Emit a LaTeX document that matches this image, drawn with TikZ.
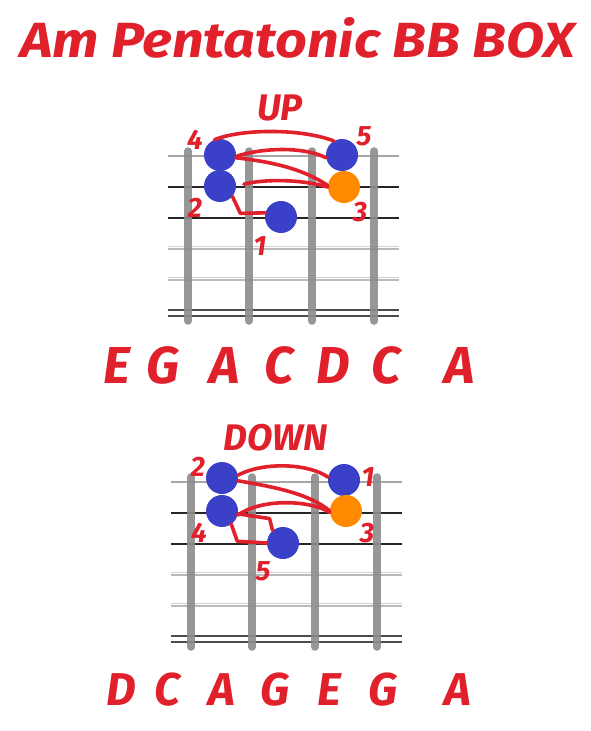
\documentclass[tikz,border=0pt]{standalone}
\usepackage{fontspec}
\newfontfamily\hand{Fira Sans}
\definecolor{penred}{HTML}{E0202A}
\definecolor{dotblue}{HTML}{3A40C8}
\definecolor{dotorange}{HTML}{FF8A00}
\definecolor{fretgray}{HTML}{8C8C8C}
\tikzset{
  dotb/.style={circle,fill=dotblue,minimum size=32pt,inner sep=0pt},
  doto/.style={circle,fill=dotorange,minimum size=32pt,inner sep=0pt},
  num/.style={text=penred,font=\hand\bfseries\itshape\fontsize{28}{28}\selectfont,inner sep=0pt},
  head/.style={text=penred,font=\hand\bfseries\itshape\fontsize{37}{37}\selectfont,inner sep=0pt},
  noteA/.style={text=penred,font=\hand\bfseries\itshape\fontsize{52}{52}\selectfont,inner sep=0pt,anchor=base},
  noteB/.style={text=penred,font=\hand\bfseries\itshape\fontsize{46}{46}\selectfont,inner sep=0pt,anchor=base},
  pen/.style={draw=penred,line width=3.6pt,line cap=round,line join=round},
  fretbar/.style={draw=fretgray,line width=7.5pt,line cap=round,opacity=0.9},
  strA/.style={draw=gray!70,line width=1.5pt},
  strB/.style={draw=black!85,line width=1.2pt},
  strC/.style={draw=gray!55,line width=1.3pt},
  strD/.style={draw=gray!35,line width=1pt},
}
\newcommand{\fretboard}{%
  \draw[strA] (168,156) -- (399,156);
  \draw[strB] (168,187) -- (399,187);
  \draw[strB] (168,218) -- (399,218);
  \draw[strC] (168,249) -- (399,249);
  \draw[strD] (168,246) -- (399,246);
  \draw[strC] (168,280) -- (399,280);
  \draw[strD] (168,277) -- (399,277);
  \draw[strB,draw=black!70] (168,310) -- (399,310);
  \draw[strB,draw=black!70] (168,316) -- (399,316);
  \foreach \fx in {188,249,312,374} {\draw[fretbar] (\fx,151) -- (\fx,321);}
}
\begin{document}
\begin{tikzpicture}[x=1pt,y=-1pt]
\useasboundingbox (0,0) rectangle (591,731);
\fill[white] (0,0) rectangle (591,731);
% title
\node[anchor=base west,inner sep=0pt,text=penred] (title) at (20,57)
  {\resizebox{555pt}{40pt}{\hand\bfseries\itshape Am Pentatonic BB BOX}};
% ---------- UP board ----------
\fretboard
\node[head] (up) at (280,108) {UP};
\node[dotb] (t4) at (220,155) {};
\node[dotb] (t2) at (220,186) {};
\node[dotb] (t1) at (281,217) {};
\node[dotb] (t5) at (342,155) {};
\node[doto] (t3) at (344,187) {};
\node[num] (n4) at (195,140) {4};
\node[num] (n5) at (364,136) {5};
\node[num] (n2) at (195,208) {2};
\node[num] (n3) at (360,212) {3};
\node[num] (n1) at (260,246) {1};
\draw[pen] (t4.110) .. controls (240,129) and (300,128) .. (t5.120);
\draw[pen] (t5.190) .. controls (305,147) and (265,147) .. (t4.-5);
\draw[pen] (t4.-10) .. controls (275,162) and (305,170) .. (t3.175);
\draw[pen,shorten <=8pt] (t2.0) .. controls (265,179) and (300,179) .. (t3.180);
\draw[pen] (t2.-40) -- ++(8,17) -- (t1.165);
% ---------- DOWN board ----------
\begin{scope}[shift={(3,326)}]
\fretboard
\end{scope}
\node[head] (down) at (276,438) {DOWN};
\node[dotb] (b2) at (222,478) {};
\node[dotb] (b4) at (222,511) {};
\node[dotb] (b1) at (344,480) {};
\node[doto] (b3) at (346,511) {};
\node[dotb] (b5) at (283,543) {};
\node[num] (m2) at (198,467) {2};
\node[num] (m1) at (368,477) {1};
\node[num] (m4) at (199,533) {4};
\node[num] (m3) at (367,533) {3};
\node[num] (m5) at (263,571) {5};
\draw[pen] (b1.170) .. controls (310,464) and (265,461) .. (b2.10);
\draw[pen] (b2.-10) .. controls (275,487) and (310,494) .. (b3.180);
\draw[pen] (b3.185) .. controls (310,500) and (262,498) .. (b4.-15);
\draw[pen] (b5.130) -- ++(-3,-12) -- (b4.-10);
\draw[pen] (b4.-55) -- ++(6,17) -- (b5.180);
% ---------- note rows ----------
\node[noteA] (u1) at (117,383) {E};
\node[noteA] (u2) at (163,383) {G};
\node[noteA] (u3) at (225,383) {A};
\node[noteA] (u4) at (279,383) {C};
\node[noteA] (u5) at (333,383) {D};
\node[noteA] (u6) at (386,383) {C};
\node[noteA] (u7) at (460,383) {A};
\node[noteB] (d1) at (121,705) {D};
\node[noteB] (d2) at (167,705) {C};
\node[noteB] (d3) at (222,705) {A};
\node[noteB] (d4) at (275,705) {G};
\node[noteB] (d5) at (329,705) {E};
\node[noteB] (d6) at (383,705) {G};
\node[noteB] (d7) at (458,705) {A};
\end{tikzpicture}
\end{document}
